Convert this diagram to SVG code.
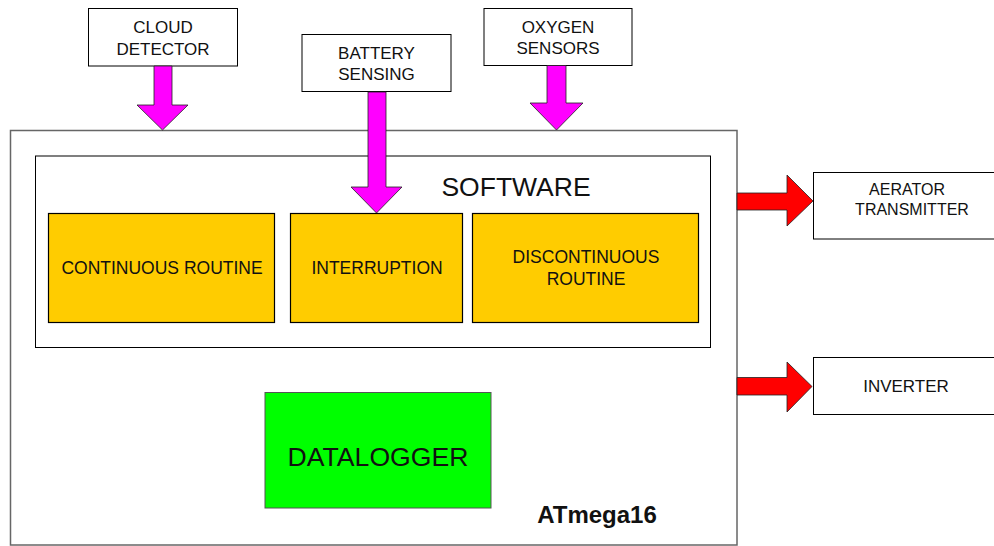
<svg xmlns="http://www.w3.org/2000/svg" width="994" height="546" viewBox="0 0 994 546">
<style>
  text { font-family: "Liberation Sans", Arial, sans-serif; fill: #111; text-anchor: middle; }
  .lbl { font-size: 17px; }
  .box { fill: #fff; stroke: #000; stroke-width: 1; }
  .routine { fill: #FFCC00; stroke: #000; stroke-width: 1.2; }
  .mag { fill: #FF00FF; stroke: #222; stroke-width: 0.8; }
  .red { fill: #FF0000; stroke: #222; stroke-width: 0.8; }
</style>
<rect width="994" height="546" fill="#fff"/>
<g id="atmega16">
  <rect x="10.5" y="130.5" width="726.5" height="414.5" fill="#fff" stroke="#666" stroke-width="1.5"/>
  <text x="597" y="523" style="font-size:24px;font-weight:bold">ATmega16</text>
</g>
<g id="software">
  <rect x="35.5" y="156" width="675" height="191.5" class="box"/>
  <text x="516" y="196" style="font-size:26.5px">SOFTWARE</text>
</g>
<g id="continuous">
  <rect x="48.5" y="213.5" width="226" height="109" class="routine"/>
  <text x="162" y="274" style="font-size:17.5px">CONTINUOUS ROUTINE</text>
</g>
<g id="interruption">
  <rect x="290.5" y="213.5" width="172" height="109" class="routine"/>
  <text x="377" y="274" style="font-size:17.5px">INTERRUPTION</text>
</g>
<g id="discontinuous">
  <rect x="472.5" y="213.5" width="226" height="109" class="routine"/>
  <text x="586" y="263" style="font-size:17.5px">DISCONTINUOUS</text>
  <text x="586" y="285" style="font-size:17.5px">ROUTINE</text>
</g>
<g id="datalogger">
  <rect x="265" y="392.5" width="226" height="115.5" fill="#00FF00" stroke="#555" stroke-width="1"/>
  <text x="378" y="466" style="font-size:26.6px">DATALOGGER</text>
</g>
<g id="cloud-detector">
  <rect x="88.5" y="8.5" width="149" height="57.5" class="box"/>
  <text x="163" y="33" class="lbl">CLOUD</text>
  <text x="163" y="55" class="lbl">DETECTOR</text>
</g>
<g id="battery-sensing">
  <rect x="302" y="34.5" width="149" height="57" class="box"/>
  <text x="376.5" y="59" class="lbl">BATTERY</text>
  <text x="376.5" y="80" class="lbl">SENSING</text>
</g>
<g id="oxygen-sensors">
  <rect x="484" y="8.5" width="148" height="57" class="box"/>
  <text x="558" y="32.5" class="lbl">OXYGEN</text>
  <text x="558" y="54" class="lbl">SENSORS</text>
</g>
<g id="aerator-transmitter">
  <rect x="813.5" y="172.5" width="200" height="66.5" class="box"/>
  <text x="907" y="195" style="font-size:16px">AERATOR</text>
  <text x="912" y="215" style="font-size:16px">TRANSMITTER</text>
</g>
<g id="inverter">
  <rect x="813.5" y="357.5" width="200" height="57" class="box"/>
  <text x="906" y="391.5" class="lbl">INVERTER</text>
</g>
<g id="connectors">
  <polygon class="mag" points="154,66 172,66 172,105 188,105 162.5,130 137,105 154,105"/>
  <polygon class="mag" points="368,92 386,92 386,187 402,187 376.5,213 351,187 368,187"/>
  <polygon class="mag" points="547,65.5 566,65.5 566,103 583,103 556.5,130 530,103 547,103"/>
  <polygon class="red" points="737,193 787,193 787,175 813,201 787,226 787,210 737,210"/>
  <polygon class="red" points="737,377.5 787,377.5 787,362 812,386.5 787,412 787,395 737,395"/>
</g>
</svg>
